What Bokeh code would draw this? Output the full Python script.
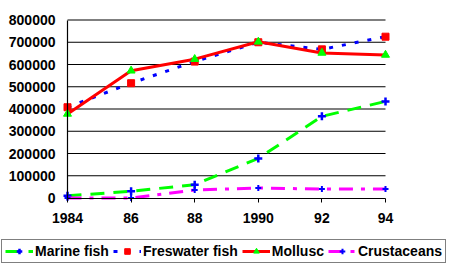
from bokeh.plotting import figure
from bokeh.models import (Legend, LegendItem, FixedTicker, NumeralTickFormatter,
                          Range1d, LinearAxis)
from bokeh.embed import file_html
from bokeh.resources import INLINE

years = [1984, 1986, 1988, 1990, 1992, 1994]
tick_labels = ["1984", "86", "88", "1990", "92", "94"]
y_ticks = [0, 100000, 200000, 300000, 400000, 500000, 600000, 700000, 800000]
marine = [10000, 30000, 60000, 178000, 367000, 434000]
freshwater = [408000, 516000, 613000, 700000, 668000, 725000]
mollusc = [378000, 572000, 624000, 702000, 652000, 643000]
crustaceans = [0, 0, 36000, 45000, 40000, 40000]
series_names = ["Marine fish", "Freswater fish", "Mollusc", "Crustaceans"]

FONT = "Liberation Sans"

# frame covers the whole canvas; the data area sits at px 67..385 x 19.5..197.5
W, H = 450, 266
L, R, T, B = 67.0, 385.0, 19.5, 197.5
xs_per_px = (years[-1] - years[0]) / (R - L)
ys_per_px = (y_ticks[-1] - y_ticks[0]) / (B - T)
x_range = Range1d(years[0] - L * xs_per_px, years[-1] + (W - R) * xs_per_px)
y_range = Range1d(y_ticks[0] - (H - B) * ys_per_px, y_ticks[-1] + T * ys_per_px)

p = figure(width=W, height=H, output_backend="svg", toolbar_location=None,
           x_range=x_range, y_range=y_range,
           x_axis_location=None, y_axis_location=None,
           min_border_left=0, min_border_right=0, min_border_top=0, min_border_bottom=0)
p.outline_line_color = None
p.background_fill_color = "white"
p.border_fill_color = "white"
p.xgrid.grid_line_color = None
p.ygrid.grid_line_color = None

# horizontal gridlines across the data area
grid_y = y_ticks[1:]
p.segment(x0=[years[0]] * len(grid_y), x1=[years[-1]] * len(grid_y),
          y0=grid_y, y1=grid_y, line_color="black", line_width=1.2)

xaxis = LinearAxis(fixed_location=0, bounds=(years[0], years[-1]))
xaxis.ticker = FixedTicker(ticks=years)
xaxis.major_label_overrides = {y: t for y, t in zip(years, tick_labels)}
xaxis.minor_tick_line_color = None
xaxis.major_tick_in = 0
xaxis.major_tick_out = 4
xaxis.major_label_standoff = 11
xaxis.axis_line_color = "black"
xaxis.axis_line_width = 1.2
xaxis.major_tick_line_color = "black"

yaxis = LinearAxis(fixed_location=years[0], bounds=(y_ticks[0], y_ticks[-1]))
yaxis.ticker = FixedTicker(ticks=y_ticks)
yaxis.formatter = NumeralTickFormatter(format="0")
yaxis.minor_tick_line_color = None
yaxis.major_tick_line_color = None
yaxis.major_tick_in = 0
yaxis.major_tick_out = 0
yaxis.major_label_standoff = 12
yaxis.axis_line_color = "black"
yaxis.axis_line_width = 1.2

for ax in (xaxis, yaxis):
    ax.major_label_text_font = FONT
    ax.major_label_text_font_style = "bold"
    ax.major_label_text_font_size = "14px"
    ax.major_label_text_color = "black"

p.add_layout(xaxis, "below")
p.add_layout(yaxis, "left")

styles = [
    dict(line=dict(line_color="#00FF00", line_width=3, line_dash="14 9"),
         mark=dict(marker="cross", size=8, line_color="#0000FF", line_width=2.5)),
    dict(line=dict(line_color="#0000FF", line_width=3, line_dash="4 9"),
         mark=dict(marker="square", size=7, fill_color="#FF0000", line_color="#FF0000")),
    dict(line=dict(line_color="#FF0000", line_width=3),
         mark=dict(marker="triangle", size=8, fill_color="#00FF00", line_color="#00FF00")),
    dict(line=dict(line_color="#FF00FF", line_width=3, line_dash="14 8 4 8"),
         mark=dict(marker="cross", size=6, line_color="#0000FF", line_width=2)),
]
values = [marine, freshwater, mollusc, crustaceans]

items = []
for name, vals, st in zip(series_names, values, styles):
    r1 = p.line(years, vals, **st["line"])
    r2 = p.scatter(years, vals, **st["mark"])
    items.append(LegendItem(label=name, renderers=[r1, r2]))

legend = Legend(items=items, orientation="horizontal", location=(1, 3))
legend.label_text_font = FONT
legend.label_text_font_style = "bold"
legend.label_text_font_size = "14px"
legend.label_text_color = "black"
legend.label_standoff = 2
legend.glyph_width = 28
legend.glyph_height = 14
legend.label_height = 14
legend.spacing = 4
legend.padding = 3
legend.margin = 0
legend.border_line_color = "black"
legend.border_line_width = 1.2
legend.background_fill_alpha = 1
p.add_layout(legend, "center")

open("out.html", "w").write(file_html(p, INLINE))
